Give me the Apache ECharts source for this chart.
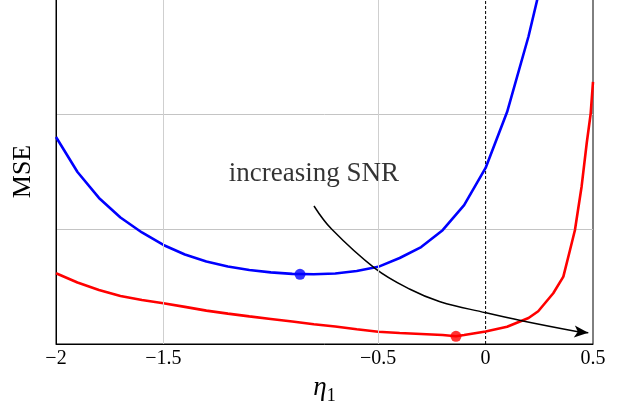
<!DOCTYPE html>
<html>
<head>
<meta charset="utf-8">
<script src="https://cdn.jsdelivr.net/npm/echarts@6/dist/echarts.min.js"></script>
<style>
html,body{margin:0;padding:0;background:#fff;}
#chart{width:620px;height:407px;}
</style>
</head>
<body>
<div id="chart"></div>
<script>
// ---- data ----
const blueX = [-2.0,-1.9,-1.8,-1.7,-1.6,-1.5,-1.4,-1.3,-1.2,-1.1,-1.0,-0.9,-0.8,-0.7,-0.6,-0.5,-0.4,-0.3,-0.2,-0.1,0.0,0.1,0.2,0.25];
const blueY = [1.80,1.496,1.27,1.10,0.97,0.861,0.778,0.717,0.674,0.643,0.623,0.610,0.606,0.613,0.635,0.671,0.748,0.843,0.99,1.207,1.531,2.017,2.676,3.07];
const redX = [-2.0,-1.9,-1.8,-1.7,-1.6,-1.5,-1.4,-1.3,-1.2,-1.1,-1.0,-0.9,-0.8,-0.7,-0.6,-0.5,-0.4,-0.3,-0.2,-0.138,-0.1,0.0,0.1,0.2,0.245,0.315,0.362,0.393,0.416,0.447,0.471,0.489,0.5];
const redY = [0.615,0.535,0.470,0.418,0.382,0.354,0.323,0.290,0.264,0.240,0.218,0.196,0.172,0.152,0.128,0.107,0.095,0.087,0.078,0.067,0.078,0.109,0.150,0.226,0.285,0.441,0.586,0.817,0.991,1.37,1.75,2.0,2.28];
const blueMin = [-0.864, 0.606];
const redMin = [-0.138, 0.067];
const arrowX = [-0.799,-0.716,-0.515,-0.352,-0.212,0.0,0.168,0.43];
const arrowY = [1.200,0.997,0.658,0.476,0.368,0.272,0.202,0.106];
const arrowTip = [0.478, 0.098];
const xTicks = [-2,-1.5,-0.5,0,0.5];
const xTickLabels = ['\u22122','\u22121.5','\u22120.5','0','0.5'];
const xGridLines = [-1.5,-0.5];
const zeroLineX = [0, 0];
const zeroLineY = [0, 3];
const noteText = 'increasing SNR';
const notePos = [-0.799, 1.478];

const FONT = '"Liberation Serif","DejaVu Serif",serif';
const zip = (xs, ys) => xs.map((x, i) => [x, ys[i]]);

const chart = echarts.init(document.getElementById('chart'), null, {renderer:'canvas'});
chart.setOption({
  animation: false,
  backgroundColor: '#fff',
  grid: {left: 56, right: 27, top: -1, height: 345, outerBoundsMode: 'none', containLabel: false,
         show: true, borderColor: '#000', borderWidth: 1, backgroundColor: 'transparent'},
  xAxis: {
    type: 'value', min: -2, max: 0.5, interval: 0.5,
    axisLine: {show: true, onZero: false, lineStyle: {color: '#000', width: 1}},
    axisTick: {show: false},
    splitLine: {show: false},
    axisLabel: {
      margin: 5, color: '#000', fontSize: 20, fontFamily: FONT,
      formatter: v => { const i = xTicks.findIndex(t => Math.abs(t - v) < 1e-9); return i >= 0 ? xTickLabels[i] : ''; }
    },
    name: '{a|\u03b7}{b|1}', nameLocation: 'middle', nameGap: 30,
    nameTextStyle: {
      color: '#000', fontFamily: FONT,
      rich: {
        a: {fontSize: 27, fontStyle: 'italic', fontFamily: FONT, color: '#000', verticalAlign: 'bottom'},
        b: {fontSize: 18, fontFamily: FONT, color: '#000', verticalAlign: 'bottom', padding: [0,0,-4,0]}
      }
    }
  },
  yAxis: {
    type: 'value', min: 0, max: 3, interval: 1,
    axisLine: {show: true, onZero: false, lineStyle: {color: '#000', width: 1}},
    axisTick: {show: false},
    axisLabel: {show: false},
    splitLine: {show: true, lineStyle: {color: '#c4c4c4', width: 1}},
    name: 'MSE', nameLocation: 'middle', nameGap: 20, nameRotate: 90,
    nameTextStyle: {color: '#000', fontSize: 26, fontFamily: FONT}
  },
  series: [
    {
      type: 'line', data: [], z: 1, silent: true,
      markLine: {
        silent: true, symbol: ['none','none'], label: {show: false},
        lineStyle: {color: '#cfcfcf', width: 1, type: 'solid'},
        data: xGridLines.map(x => ({xAxis: x}))
      }
    },
    {
      type: 'line', data: zip(zeroLineX, zeroLineY), showSymbol: false, z: 2, silent: true,
      lineStyle: {color: '#000', width: 1, type: [3, 2]}
    },
    {
      type: 'line', data: zip(blueX, blueY), showSymbol: false, smooth: false, clip: true, z: 3,
      lineStyle: {color: '#0000ff', width: 2.6}
    },
    {
      type: 'line', data: zip(redX, redY), showSymbol: false, smooth: false, clip: true, z: 3,
      lineStyle: {color: '#ff0000', width: 2.6}
    },
    {
      type: 'line', data: zip(arrowX, arrowY), showSymbol: false, smooth: 0.4, z: 4,
      lineStyle: {color: '#000', width: 1.5},
      markLine: {
        silent: true, symbol: ['none','arrow'], symbolSize: [9, 14], label: {show: false},
        lineStyle: {color: '#000', width: 1.5, type: 'solid'},
        data: [[{coord: [arrowX[arrowX.length-1], arrowY[arrowY.length-1]]}, {coord: arrowTip}]]
      }
    },
    {
      type: 'scatter', data: [blueMin], symbol: 'circle', symbolSize: 11, z: 5,
      itemStyle: {color: '#0000ff'}
    },
    {
      type: 'scatter', data: [redMin], symbol: 'circle', symbolSize: 11, z: 5,
      itemStyle: {color: '#ff0000'}
    },
    {
      type: 'scatter', data: [notePos], symbolSize: 0, z: 6, silent: true,
      label: {show: true, position: 'inside', formatter: noteText, color: '#000', fontSize: 27, fontFamily: FONT, textBorderWidth: 0}
    }
  ]
});
</script>
</body>
</html>
